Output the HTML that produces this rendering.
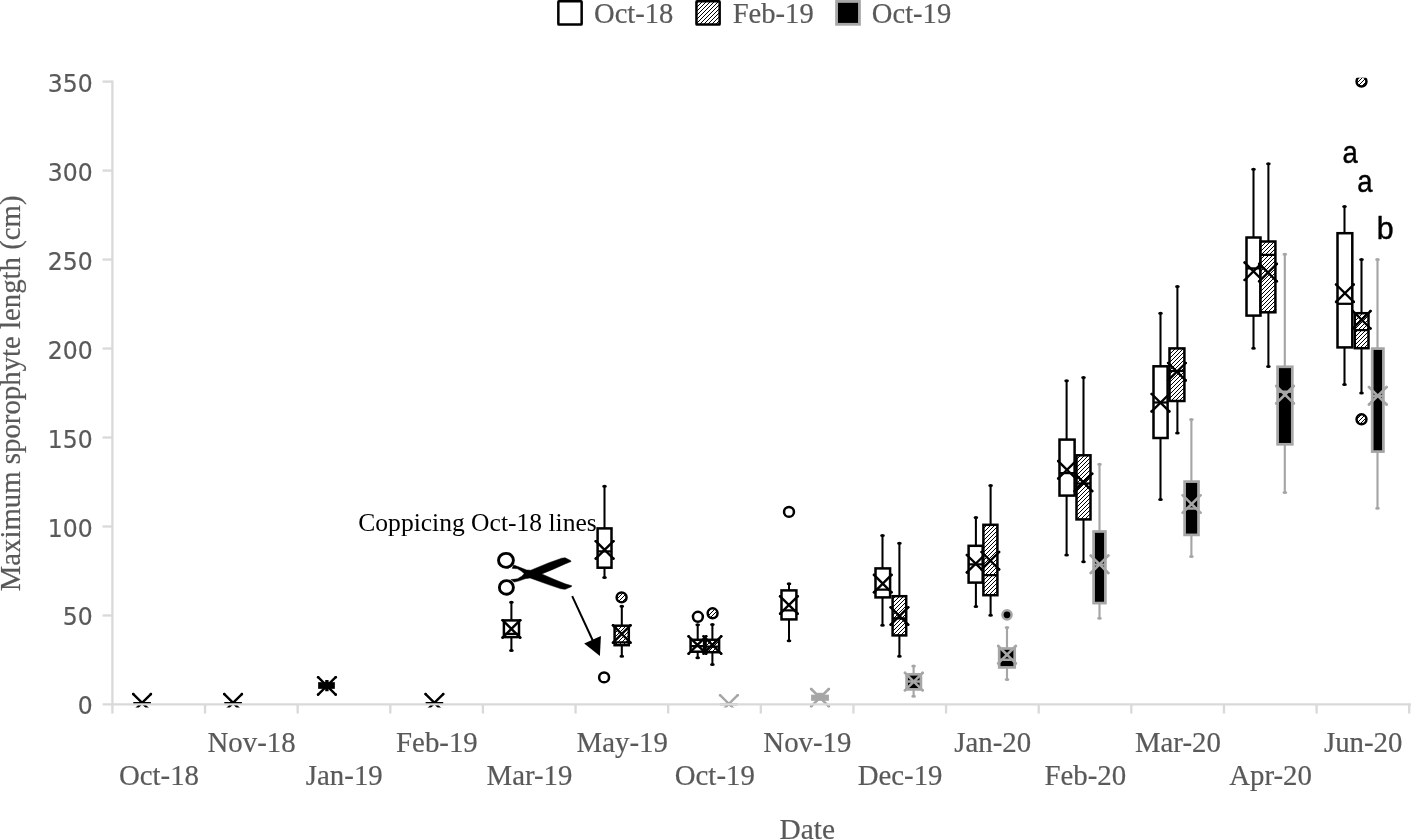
<!DOCTYPE html>
<html lang="en"><head><meta charset="utf-8"><title>Maximum sporophyte length</title>
<style>
html,body{margin:0;padding:0;background:#fff;}
body{width:1411px;height:839px;overflow:hidden;}
svg{display:block;}
</style></head><body>
<svg width="1411" height="839" viewBox="0 0 1411 839">
<defs>
<pattern id="hatch" width="4" height="4" patternUnits="userSpaceOnUse">
<path d="M-1 1L1 -1M-1 5L5 -1M3 5L5 3" stroke="#000" stroke-width="1.0" fill="none"/>
</pattern>
<clipPath id="plot"><rect x="100" y="77.7" width="1311" height="629.9"/></clipPath>
</defs>
<rect width="1411" height="839" fill="#fff"/>
<g clip-path="url(#plot)">
<path d="M326.9 680V691.3" stroke="#000" stroke-width="3.4"/>
<rect x="319.2" y="683.2" width="14.6" height="4.6" fill="#000" stroke="#000" stroke-width="2.1"/>
<path d="M318.1 677.2L335.7 694.6M318.1 694.6L335.7 677.2" stroke="#000" stroke-width="2.4" stroke-linecap="round" fill="none"/><circle cx="318.1" cy="677.2" r="1.3" fill="#000"/><circle cx="318.1" cy="694.6" r="1.3" fill="#000"/><circle cx="335.7" cy="677.2" r="1.3" fill="#000"/><circle cx="335.7" cy="694.6" r="1.3" fill="#000"/>
<path d="M133.3 703.1H150.9" stroke="#000" stroke-width="2.2"/>
<path d="M133.3 694.1L150.9 711.5M133.3 711.5L150.9 694.1" stroke="#000" stroke-width="2.4" stroke-linecap="round" fill="none"/><circle cx="133.3" cy="694.1" r="1.3" fill="#000"/><circle cx="133.3" cy="711.5" r="1.3" fill="#000"/><circle cx="150.9" cy="694.1" r="1.3" fill="#000"/><circle cx="150.9" cy="711.5" r="1.3" fill="#000"/>
<path d="M224.3 703.1H241.9" stroke="#000" stroke-width="2.2"/>
<path d="M224.3 694.1L241.9 711.5M224.3 711.5L241.9 694.1" stroke="#000" stroke-width="2.4" stroke-linecap="round" fill="none"/><circle cx="224.3" cy="694.1" r="1.3" fill="#000"/><circle cx="224.3" cy="711.5" r="1.3" fill="#000"/><circle cx="241.9" cy="694.1" r="1.3" fill="#000"/><circle cx="241.9" cy="711.5" r="1.3" fill="#000"/>
<path d="M425.6 703.1H443.2" stroke="#000" stroke-width="2.2"/>
<path d="M425.6 694.1L443.2 711.5M425.6 711.5L443.2 694.1" stroke="#000" stroke-width="2.4" stroke-linecap="round" fill="none"/><circle cx="425.6" cy="694.1" r="1.3" fill="#000"/><circle cx="425.6" cy="711.5" r="1.3" fill="#000"/><circle cx="443.2" cy="694.1" r="1.3" fill="#000"/><circle cx="443.2" cy="711.5" r="1.3" fill="#000"/>
<path d="M720.1 704.3H737.7" stroke="#A6A6A6" stroke-width="2.2"/>
<path d="M720.1 695.2L737.7 712.6M720.1 712.6L737.7 695.2" stroke="#A6A6A6" stroke-width="2.4" stroke-linecap="round" fill="none"/><circle cx="720.1" cy="695.2" r="1.3" fill="#A6A6A6"/><circle cx="720.1" cy="712.6" r="1.3" fill="#A6A6A6"/><circle cx="737.7" cy="695.2" r="1.3" fill="#A6A6A6"/><circle cx="737.7" cy="712.6" r="1.3" fill="#A6A6A6"/>
<rect x="811.1" y="694.7" width="17.8" height="6.1" fill="#A6A6A6"/>
<rect x="817.2" y="692.8" width="5.6" height="3" fill="#A6A6A6"/>
<path d="M811.2 689.0L828.8 706.4M811.2 706.4L828.8 689.0" stroke="#A6A6A6" stroke-width="2.5" stroke-linecap="round" fill="none"/><circle cx="811.2" cy="689.0" r="1.3" fill="#A6A6A6"/><circle cx="811.2" cy="706.4" r="1.3" fill="#A6A6A6"/><circle cx="828.8" cy="689.0" r="1.3" fill="#A6A6A6"/><circle cx="828.8" cy="706.4" r="1.3" fill="#A6A6A6"/>
<path d="M511.4 602.3V620.4M511.4 637.1V650.6" stroke="#000" stroke-width="2.05" fill="none"/>
<ellipse cx="511.4" cy="602.3" rx="2.35" ry="1.5" fill="#000"/>
<ellipse cx="511.4" cy="650.6" rx="2.35" ry="1.5" fill="#000"/>
<rect x="503.9" y="620.4" width="15.1" height="16.7" fill="#fff" stroke="#000" stroke-width="2.5"/>
<path d="M503.9 633.8H519.0" stroke="#000" stroke-width="2.25" fill="none"/>
<path d="M502.6 620.2L520.2 637.6M502.6 637.6L520.2 620.2" stroke="#000" stroke-width="2.4" stroke-linecap="round" fill="none"/><circle cx="502.6" cy="620.2" r="1.3" fill="#000"/><circle cx="502.6" cy="637.6" r="1.3" fill="#000"/><circle cx="520.2" cy="620.2" r="1.3" fill="#000"/><circle cx="520.2" cy="637.6" r="1.3" fill="#000"/>
<path d="M604.5 486.3V528.4M604.5 567.7V577.6" stroke="#000" stroke-width="2.05" fill="none"/>
<ellipse cx="604.5" cy="486.3" rx="2.35" ry="1.5" fill="#000"/>
<ellipse cx="604.5" cy="577.6" rx="2.35" ry="1.5" fill="#000"/>
<rect x="597.6" y="528.4" width="13.9" height="39.3" fill="#fff" stroke="#000" stroke-width="2.5"/>
<path d="M597.6 551.4H611.5" stroke="#000" stroke-width="2.25" fill="none"/>
<path d="M595.8 541.2L613.4 558.6M595.8 558.6L613.4 541.2" stroke="#000" stroke-width="2.4" stroke-linecap="round" fill="none"/><circle cx="595.8" cy="541.2" r="1.3" fill="#000"/><circle cx="595.8" cy="558.6" r="1.3" fill="#000"/><circle cx="613.4" cy="541.2" r="1.3" fill="#000"/><circle cx="613.4" cy="558.6" r="1.3" fill="#000"/>
<path d="M621.8 606.2V625.7M621.8 645.2V656.2" stroke="#000" stroke-width="2.05" fill="none"/>
<ellipse cx="621.8" cy="606.2" rx="2.35" ry="1.5" fill="#000"/>
<ellipse cx="621.8" cy="656.2" rx="2.35" ry="1.5" fill="#000"/>
<rect x="614.6" y="625.7" width="14.2" height="19.5" fill="#fff"/>
<rect x="614.6" y="625.7" width="14.2" height="19.5" fill="url(#hatch)" stroke="#000" stroke-width="2.5"/>
<path d="M614.6 642.3H628.9" stroke="#000" stroke-width="2.25" fill="none"/>
<path d="M613.0 625.3L630.5 642.7M613.0 642.7L630.5 625.3" stroke="#000" stroke-width="2.4" stroke-linecap="round" fill="none"/><circle cx="613.0" cy="625.3" r="1.3" fill="#000"/><circle cx="613.0" cy="642.7" r="1.3" fill="#000"/><circle cx="630.5" cy="625.3" r="1.3" fill="#000"/><circle cx="630.5" cy="642.7" r="1.3" fill="#000"/>
<path d="M697.7 624.8V639.8M697.7 651.7V657.8" stroke="#000" stroke-width="2.05" fill="none"/>
<ellipse cx="697.7" cy="624.8" rx="2.35" ry="1.5" fill="#000"/>
<ellipse cx="697.7" cy="657.8" rx="2.35" ry="1.5" fill="#000"/>
<rect x="690.6" y="639.8" width="13.5" height="11.9" fill="#fff" stroke="#000" stroke-width="2.5"/>
<path d="M690.6 646.0H704.1" stroke="#000" stroke-width="2.25" fill="none"/>
<path d="M688.6 636.3L706.2 653.7M688.6 653.7L706.2 636.3" stroke="#000" stroke-width="2.4" stroke-linecap="round" fill="none"/><circle cx="688.6" cy="636.3" r="1.3" fill="#000"/><circle cx="688.6" cy="653.7" r="1.3" fill="#000"/><circle cx="706.2" cy="636.3" r="1.3" fill="#000"/><circle cx="706.2" cy="653.7" r="1.3" fill="#000"/>
<path d="M712.4 624.6V639.8M712.4 652.2V664.6" stroke="#000" stroke-width="2.05" fill="none"/>
<ellipse cx="712.4" cy="624.6" rx="2.35" ry="1.5" fill="#000"/>
<ellipse cx="712.4" cy="664.6" rx="2.35" ry="1.5" fill="#000"/>
<rect x="705.6" y="639.8" width="13.5" height="12.4" fill="#fff"/>
<rect x="705.6" y="639.8" width="13.5" height="12.4" fill="url(#hatch)" stroke="#000" stroke-width="2.5"/>
<path d="M705.6 646.5H719.1" stroke="#000" stroke-width="2.25" fill="none"/>
<path d="M703.6 636.3L721.2 653.7M703.6 653.7L721.2 636.3" stroke="#000" stroke-width="2.4" stroke-linecap="round" fill="none"/><circle cx="703.6" cy="636.3" r="1.3" fill="#000"/><circle cx="703.6" cy="653.7" r="1.3" fill="#000"/><circle cx="721.2" cy="636.3" r="1.3" fill="#000"/><circle cx="721.2" cy="653.7" r="1.3" fill="#000"/>
<path d="M789.0 583.7V590.4M789.0 619.4V640.8" stroke="#000" stroke-width="2.05" fill="none"/>
<ellipse cx="789.0" cy="583.7" rx="2.35" ry="1.5" fill="#000"/>
<ellipse cx="789.0" cy="640.8" rx="2.35" ry="1.5" fill="#000"/>
<rect x="781.5" y="590.4" width="14.9" height="29.0" fill="#fff" stroke="#000" stroke-width="2.5"/>
<path d="M781.5 610.3H796.4" stroke="#000" stroke-width="2.25" fill="none"/>
<path d="M780.1 596.3L797.7 613.7M780.1 613.7L797.7 596.3" stroke="#000" stroke-width="2.4" stroke-linecap="round" fill="none"/><circle cx="780.1" cy="596.3" r="1.3" fill="#000"/><circle cx="780.1" cy="613.7" r="1.3" fill="#000"/><circle cx="797.7" cy="596.3" r="1.3" fill="#000"/><circle cx="797.7" cy="613.7" r="1.3" fill="#000"/>
<path d="M882.5 535.5V568.4M882.5 597.4V625.2" stroke="#000" stroke-width="2.05" fill="none"/>
<ellipse cx="882.5" cy="535.5" rx="2.35" ry="1.5" fill="#000"/>
<ellipse cx="882.5" cy="625.2" rx="2.35" ry="1.5" fill="#000"/>
<rect x="875.5" y="568.4" width="14.6" height="29.0" fill="#fff" stroke="#000" stroke-width="2.5"/>
<path d="M875.5 589.7H890.0" stroke="#000" stroke-width="2.25" fill="none"/>
<path d="M874.0 574.9L891.5 592.3M874.0 592.3L891.5 574.9" stroke="#000" stroke-width="2.4" stroke-linecap="round" fill="none"/><circle cx="874.0" cy="574.9" r="1.3" fill="#000"/><circle cx="874.0" cy="592.3" r="1.3" fill="#000"/><circle cx="891.5" cy="574.9" r="1.3" fill="#000"/><circle cx="891.5" cy="592.3" r="1.3" fill="#000"/>
<path d="M899.4 543.3V596.2M899.4 635.4V656.3" stroke="#000" stroke-width="2.05" fill="none"/>
<ellipse cx="899.4" cy="543.3" rx="2.35" ry="1.5" fill="#000"/>
<ellipse cx="899.4" cy="656.3" rx="2.35" ry="1.5" fill="#000"/>
<rect x="892.6" y="596.2" width="13.6" height="39.2" fill="#fff"/>
<rect x="892.6" y="596.2" width="13.6" height="39.2" fill="url(#hatch)" stroke="#000" stroke-width="2.5"/>
<path d="M892.6 618.3H906.2" stroke="#000" stroke-width="2.25" fill="none"/>
<path d="M890.7 607.3L908.2 624.7M890.7 624.7L908.2 607.3" stroke="#000" stroke-width="2.4" stroke-linecap="round" fill="none"/><circle cx="890.7" cy="607.3" r="1.3" fill="#000"/><circle cx="890.7" cy="624.7" r="1.3" fill="#000"/><circle cx="908.2" cy="607.3" r="1.3" fill="#000"/><circle cx="908.2" cy="624.7" r="1.3" fill="#000"/>
<path d="M913.6 665.9V674.3M913.6 689.4V696.2" stroke="#A6A6A6" stroke-width="2.15" fill="none"/>
<ellipse cx="913.6" cy="665.9" rx="2.35" ry="1.5" fill="#A6A6A6"/>
<ellipse cx="913.6" cy="696.2" rx="2.35" ry="1.5" fill="#A6A6A6"/>
<rect x="906.6" y="674.3" width="14.3" height="15.1" fill="#000" stroke="#A6A6A6" stroke-width="2.7"/>
<path d="M906.6 681.5H920.9" stroke="#A6A6A6" stroke-width="2.43" fill="none"/>
<path d="M905.0 672.9L922.6 690.3M905.0 690.3L922.6 672.9" stroke="#A6A6A6" stroke-width="2.6" stroke-linecap="round" fill="none"/><circle cx="905.0" cy="672.9" r="1.3" fill="#A6A6A6"/><circle cx="905.0" cy="690.3" r="1.3" fill="#A6A6A6"/><circle cx="922.6" cy="672.9" r="1.3" fill="#A6A6A6"/><circle cx="922.6" cy="690.3" r="1.3" fill="#A6A6A6"/>
<path d="M975.9 517.4V545.8M975.9 582.6V606.4" stroke="#000" stroke-width="2.05" fill="none"/>
<ellipse cx="975.9" cy="517.4" rx="2.35" ry="1.5" fill="#000"/>
<ellipse cx="975.9" cy="606.4" rx="2.35" ry="1.5" fill="#000"/>
<rect x="968.6" y="545.8" width="14.1" height="36.8" fill="#fff" stroke="#000" stroke-width="2.5"/>
<path d="M968.6 564.3H982.8" stroke="#000" stroke-width="2.25" fill="none"/>
<path d="M966.9 555.0L984.5 572.4M966.9 572.4L984.5 555.0" stroke="#000" stroke-width="2.4" stroke-linecap="round" fill="none"/><circle cx="966.9" cy="555.0" r="1.3" fill="#000"/><circle cx="966.9" cy="572.4" r="1.3" fill="#000"/><circle cx="984.5" cy="555.0" r="1.3" fill="#000"/><circle cx="984.5" cy="572.4" r="1.3" fill="#000"/>
<path d="M990.6 485.6V524.8M990.6 595.2V615.2" stroke="#000" stroke-width="2.05" fill="none"/>
<ellipse cx="990.6" cy="485.6" rx="2.35" ry="1.5" fill="#000"/>
<ellipse cx="990.6" cy="615.2" rx="2.35" ry="1.5" fill="#000"/>
<rect x="983.4" y="524.8" width="14.0" height="70.4" fill="#fff"/>
<rect x="983.4" y="524.8" width="14.0" height="70.4" fill="url(#hatch)" stroke="#000" stroke-width="2.5"/>
<path d="M983.4 575.0H997.4" stroke="#000" stroke-width="2.25" fill="none"/>
<path d="M981.6 552.0L999.1 569.4M981.6 569.4L999.1 552.0" stroke="#000" stroke-width="2.4" stroke-linecap="round" fill="none"/><circle cx="981.6" cy="552.0" r="1.3" fill="#000"/><circle cx="981.6" cy="569.4" r="1.3" fill="#000"/><circle cx="999.1" cy="552.0" r="1.3" fill="#000"/><circle cx="999.1" cy="569.4" r="1.3" fill="#000"/>
<path d="M1007.0 627.4V648.5M1007.0 667.4V679.6" stroke="#A6A6A6" stroke-width="2.15" fill="none"/>
<ellipse cx="1007.0" cy="627.4" rx="2.35" ry="1.5" fill="#A6A6A6"/>
<ellipse cx="1007.0" cy="679.6" rx="2.35" ry="1.5" fill="#A6A6A6"/>
<rect x="999.2" y="648.5" width="15.5" height="18.9" fill="#000" stroke="#A6A6A6" stroke-width="2.7"/>
<path d="M999.2 659.7H1014.8" stroke="#A6A6A6" stroke-width="2.43" fill="none"/>
<path d="M998.2 646.0L1015.8 663.4M998.2 663.4L1015.8 646.0" stroke="#A6A6A6" stroke-width="2.6" stroke-linecap="round" fill="none"/><circle cx="998.2" cy="646.0" r="1.3" fill="#A6A6A6"/><circle cx="998.2" cy="663.4" r="1.3" fill="#A6A6A6"/><circle cx="1015.8" cy="646.0" r="1.3" fill="#A6A6A6"/><circle cx="1015.8" cy="663.4" r="1.3" fill="#A6A6A6"/>
<path d="M1066.6 380.7V439.6M1066.6 495.6V554.9" stroke="#000" stroke-width="2.05" fill="none"/>
<ellipse cx="1066.6" cy="380.7" rx="2.35" ry="1.5" fill="#000"/>
<ellipse cx="1066.6" cy="554.9" rx="2.35" ry="1.5" fill="#000"/>
<rect x="1059.5" y="439.6" width="15.1" height="56.0" fill="#fff" stroke="#000" stroke-width="2.5"/>
<path d="M1059.5 473.1H1074.5" stroke="#000" stroke-width="2.25" fill="none"/>
<path d="M1058.2 461.1L1075.8 478.5M1058.2 478.5L1075.8 461.1" stroke="#000" stroke-width="2.4" stroke-linecap="round" fill="none"/><circle cx="1058.2" cy="461.1" r="1.3" fill="#000"/><circle cx="1058.2" cy="478.5" r="1.3" fill="#000"/><circle cx="1075.8" cy="461.1" r="1.3" fill="#000"/><circle cx="1075.8" cy="478.5" r="1.3" fill="#000"/>
<path d="M1083.5 377.4V455.3M1083.5 519.4V561.7" stroke="#000" stroke-width="2.05" fill="none"/>
<ellipse cx="1083.5" cy="377.4" rx="2.35" ry="1.5" fill="#000"/>
<ellipse cx="1083.5" cy="561.7" rx="2.35" ry="1.5" fill="#000"/>
<rect x="1076.5" y="455.3" width="14.0" height="64.1" fill="#fff"/>
<rect x="1076.5" y="455.3" width="14.0" height="64.1" fill="url(#hatch)" stroke="#000" stroke-width="2.5"/>
<path d="M1076.5 483.5H1090.5" stroke="#000" stroke-width="2.25" fill="none"/>
<path d="M1074.7 473.7L1092.2 491.1M1074.7 491.1L1092.2 473.7" stroke="#000" stroke-width="2.4" stroke-linecap="round" fill="none"/><circle cx="1074.7" cy="473.7" r="1.3" fill="#000"/><circle cx="1074.7" cy="491.1" r="1.3" fill="#000"/><circle cx="1092.2" cy="473.7" r="1.3" fill="#000"/><circle cx="1092.2" cy="491.1" r="1.3" fill="#000"/>
<path d="M1099.5 464.3V531.5M1099.5 603.1V618.3" stroke="#A6A6A6" stroke-width="2.15" fill="none"/>
<ellipse cx="1099.5" cy="464.3" rx="2.35" ry="1.5" fill="#A6A6A6"/>
<ellipse cx="1099.5" cy="618.3" rx="2.35" ry="1.5" fill="#A6A6A6"/>
<rect x="1093.6" y="531.5" width="11.8" height="71.6" fill="#000" stroke="#A6A6A6" stroke-width="2.7"/>
<path d="M1093.6 564.6H1105.5" stroke="#A6A6A6" stroke-width="2.43" fill="none"/>
<path d="M1090.8 555.6L1108.3 573.0M1090.8 573.0L1108.3 555.6" stroke="#A6A6A6" stroke-width="2.6" stroke-linecap="round" fill="none"/><circle cx="1090.8" cy="555.6" r="1.3" fill="#A6A6A6"/><circle cx="1090.8" cy="573.0" r="1.3" fill="#A6A6A6"/><circle cx="1108.3" cy="555.6" r="1.3" fill="#A6A6A6"/><circle cx="1108.3" cy="573.0" r="1.3" fill="#A6A6A6"/>
<path d="M1160.5 313.3V366.3M1160.5 438.0V499.5" stroke="#000" stroke-width="2.05" fill="none"/>
<ellipse cx="1160.5" cy="313.3" rx="2.35" ry="1.5" fill="#000"/>
<ellipse cx="1160.5" cy="499.5" rx="2.35" ry="1.5" fill="#000"/>
<rect x="1153.5" y="366.3" width="14.1" height="71.7" fill="#fff" stroke="#000" stroke-width="2.5"/>
<path d="M1153.5 402.5H1167.5" stroke="#000" stroke-width="2.25" fill="none"/>
<path d="M1151.7 394.0L1169.3 411.4M1151.7 411.4L1169.3 394.0" stroke="#000" stroke-width="2.4" stroke-linecap="round" fill="none"/><circle cx="1151.7" cy="394.0" r="1.3" fill="#000"/><circle cx="1151.7" cy="411.4" r="1.3" fill="#000"/><circle cx="1169.3" cy="394.0" r="1.3" fill="#000"/><circle cx="1169.3" cy="411.4" r="1.3" fill="#000"/>
<path d="M1177.4 286.5V348.4M1177.4 401.0V433.0" stroke="#000" stroke-width="2.05" fill="none"/>
<ellipse cx="1177.4" cy="286.5" rx="2.35" ry="1.5" fill="#000"/>
<ellipse cx="1177.4" cy="433.0" rx="2.35" ry="1.5" fill="#000"/>
<rect x="1169.5" y="348.4" width="14.9" height="52.6" fill="#fff"/>
<rect x="1169.5" y="348.4" width="14.9" height="52.6" fill="url(#hatch)" stroke="#000" stroke-width="2.5"/>
<path d="M1169.5 371.0H1184.3" stroke="#000" stroke-width="2.25" fill="none"/>
<path d="M1168.1 363.0L1185.7 380.4M1168.1 380.4L1185.7 363.0" stroke="#000" stroke-width="2.4" stroke-linecap="round" fill="none"/><circle cx="1168.1" cy="363.0" r="1.3" fill="#000"/><circle cx="1168.1" cy="380.4" r="1.3" fill="#000"/><circle cx="1185.7" cy="363.0" r="1.3" fill="#000"/><circle cx="1185.7" cy="380.4" r="1.3" fill="#000"/>
<path d="M1191.4 419.6V481.6M1191.4 534.9V556.5" stroke="#A6A6A6" stroke-width="2.15" fill="none"/>
<ellipse cx="1191.4" cy="419.6" rx="2.35" ry="1.5" fill="#A6A6A6"/>
<ellipse cx="1191.4" cy="556.5" rx="2.35" ry="1.5" fill="#A6A6A6"/>
<rect x="1184.6" y="481.6" width="13.9" height="53.3" fill="#000" stroke="#A6A6A6" stroke-width="2.7"/>
<path d="M1184.6 508.5H1198.6" stroke="#A6A6A6" stroke-width="2.43" fill="none"/>
<path d="M1182.8 495.3L1200.4 512.7M1182.8 512.7L1200.4 495.3" stroke="#A6A6A6" stroke-width="2.6" stroke-linecap="round" fill="none"/><circle cx="1182.8" cy="495.3" r="1.3" fill="#A6A6A6"/><circle cx="1182.8" cy="512.7" r="1.3" fill="#A6A6A6"/><circle cx="1200.4" cy="495.3" r="1.3" fill="#A6A6A6"/><circle cx="1200.4" cy="512.7" r="1.3" fill="#A6A6A6"/>
<path d="M1253.5 169.3V237.5M1253.5 315.6V348.2" stroke="#000" stroke-width="2.05" fill="none"/>
<ellipse cx="1253.5" cy="169.3" rx="2.35" ry="1.5" fill="#000"/>
<ellipse cx="1253.5" cy="348.2" rx="2.35" ry="1.5" fill="#000"/>
<rect x="1246.5" y="237.5" width="14.0" height="78.1" fill="#fff" stroke="#000" stroke-width="2.5"/>
<path d="M1246.5 268.4H1260.5" stroke="#000" stroke-width="2.25" fill="none"/>
<path d="M1244.7 262.6L1262.2 280.0M1244.7 280.0L1262.2 262.6" stroke="#000" stroke-width="2.4" stroke-linecap="round" fill="none"/><circle cx="1244.7" cy="262.6" r="1.3" fill="#000"/><circle cx="1244.7" cy="280.0" r="1.3" fill="#000"/><circle cx="1262.2" cy="262.6" r="1.3" fill="#000"/><circle cx="1262.2" cy="280.0" r="1.3" fill="#000"/>
<path d="M1268.4 163.7V241.5M1268.4 312.3V366.6" stroke="#000" stroke-width="2.05" fill="none"/>
<ellipse cx="1268.4" cy="163.7" rx="2.35" ry="1.5" fill="#000"/>
<ellipse cx="1268.4" cy="366.6" rx="2.35" ry="1.5" fill="#000"/>
<rect x="1260.5" y="241.5" width="14.9" height="70.8" fill="#fff"/>
<rect x="1260.5" y="241.5" width="14.9" height="70.8" fill="url(#hatch)" stroke="#000" stroke-width="2.5"/>
<path d="M1260.5 254.9H1275.5" stroke="#000" stroke-width="2.25" fill="none"/>
<path d="M1259.2 263.9L1276.8 281.3M1259.2 281.3L1276.8 263.9" stroke="#000" stroke-width="2.4" stroke-linecap="round" fill="none"/><circle cx="1259.2" cy="263.9" r="1.3" fill="#000"/><circle cx="1259.2" cy="281.3" r="1.3" fill="#000"/><circle cx="1276.8" cy="263.9" r="1.3" fill="#000"/><circle cx="1276.8" cy="281.3" r="1.3" fill="#000"/>
<path d="M1284.8 254.2V366.8M1284.8 444.3V492.4" stroke="#A6A6A6" stroke-width="2.15" fill="none"/>
<ellipse cx="1284.8" cy="254.2" rx="2.35" ry="1.5" fill="#A6A6A6"/>
<ellipse cx="1284.8" cy="492.4" rx="2.35" ry="1.5" fill="#A6A6A6"/>
<rect x="1277.6" y="366.8" width="14.7" height="77.5" fill="#000" stroke="#A6A6A6" stroke-width="2.7"/>
<path d="M1277.6 391.7H1292.4" stroke="#A6A6A6" stroke-width="2.43" fill="none"/>
<path d="M1276.2 386.0L1293.8 403.4M1276.2 403.4L1293.8 386.0" stroke="#A6A6A6" stroke-width="2.6" stroke-linecap="round" fill="none"/><circle cx="1276.2" cy="386.0" r="1.3" fill="#A6A6A6"/><circle cx="1276.2" cy="403.4" r="1.3" fill="#A6A6A6"/><circle cx="1293.8" cy="386.0" r="1.3" fill="#A6A6A6"/><circle cx="1293.8" cy="403.4" r="1.3" fill="#A6A6A6"/>
<path d="M1344.5 206.5V233.2M1344.5 347.4V384.4" stroke="#000" stroke-width="2.05" fill="none"/>
<ellipse cx="1344.5" cy="206.5" rx="2.35" ry="1.5" fill="#000"/>
<ellipse cx="1344.5" cy="384.4" rx="2.35" ry="1.5" fill="#000"/>
<rect x="1337.5" y="233.2" width="14.8" height="114.2" fill="#fff" stroke="#000" stroke-width="2.5"/>
<path d="M1337.5 303.8H1352.3" stroke="#000" stroke-width="2.25" fill="none"/>
<path d="M1336.1 284.5L1353.7 301.9M1336.1 301.9L1353.7 284.5" stroke="#000" stroke-width="2.4" stroke-linecap="round" fill="none"/><circle cx="1336.1" cy="284.5" r="1.3" fill="#000"/><circle cx="1336.1" cy="301.9" r="1.3" fill="#000"/><circle cx="1353.7" cy="284.5" r="1.3" fill="#000"/><circle cx="1353.7" cy="301.9" r="1.3" fill="#000"/>
<path d="M1361.5 259.5V313.2M1361.5 348.2V393.0" stroke="#000" stroke-width="2.05" fill="none"/>
<ellipse cx="1361.5" cy="259.5" rx="2.35" ry="1.5" fill="#000"/>
<ellipse cx="1361.5" cy="393.0" rx="2.35" ry="1.5" fill="#000"/>
<rect x="1354.8" y="313.2" width="13.7" height="35.0" fill="#fff"/>
<rect x="1354.8" y="313.2" width="13.7" height="35.0" fill="url(#hatch)" stroke="#000" stroke-width="2.5"/>
<path d="M1354.8 330.1H1368.5" stroke="#000" stroke-width="2.25" fill="none"/>
<path d="M1352.9 311.1L1370.5 328.5M1352.9 328.5L1370.5 311.1" stroke="#000" stroke-width="2.4" stroke-linecap="round" fill="none"/><circle cx="1352.9" cy="311.1" r="1.3" fill="#000"/><circle cx="1352.9" cy="328.5" r="1.3" fill="#000"/><circle cx="1370.5" cy="311.1" r="1.3" fill="#000"/><circle cx="1370.5" cy="328.5" r="1.3" fill="#000"/>
<path d="M1377.5 259.5V348.6M1377.5 451.6V508.3" stroke="#A6A6A6" stroke-width="2.15" fill="none"/>
<ellipse cx="1377.5" cy="259.5" rx="2.35" ry="1.5" fill="#A6A6A6"/>
<ellipse cx="1377.5" cy="508.3" rx="2.35" ry="1.5" fill="#A6A6A6"/>
<rect x="1372.2" y="348.6" width="11.2" height="103.0" fill="#000" stroke="#A6A6A6" stroke-width="2.7"/>
<path d="M1372.2 396.0H1383.5" stroke="#A6A6A6" stroke-width="2.43" fill="none"/>
<path d="M1369.0 387.1L1386.6 404.5M1369.0 404.5L1386.6 387.1" stroke="#A6A6A6" stroke-width="2.6" stroke-linecap="round" fill="none"/><circle cx="1369.0" cy="387.1" r="1.3" fill="#A6A6A6"/><circle cx="1369.0" cy="404.5" r="1.3" fill="#A6A6A6"/><circle cx="1386.6" cy="387.1" r="1.3" fill="#A6A6A6"/><circle cx="1386.6" cy="404.5" r="1.3" fill="#A6A6A6"/>
<circle cx="604.1" cy="677.4" r="4.95" fill="#fff" stroke="#000" stroke-width="2.5"/>
<circle cx="621.6" cy="597.4" r="4.95" fill="#fff"/><circle cx="621.6" cy="597.4" r="4.95" fill="url(#hatch)" stroke="#000" stroke-width="2.5"/>
<circle cx="697.9" cy="616.8" r="4.95" fill="#fff" stroke="#000" stroke-width="2.5"/>
<circle cx="712.6" cy="613.3" r="4.95" fill="#fff"/><circle cx="712.6" cy="613.3" r="4.95" fill="url(#hatch)" stroke="#000" stroke-width="2.5"/>
<circle cx="789.0" cy="511.9" r="4.95" fill="#fff" stroke="#000" stroke-width="2.5"/>
<circle cx="1007.0" cy="614.8" r="4.6" fill="#000" stroke="#A6A6A6" stroke-width="2.5"/>
<circle cx="1361.5" cy="81.5" r="4.95" fill="#fff"/><circle cx="1361.5" cy="81.5" r="4.95" fill="url(#hatch)" stroke="#000" stroke-width="2.5"/>
<circle cx="1361.5" cy="419.3" r="4.95" fill="#fff"/><circle cx="1361.5" cy="419.3" r="4.95" fill="url(#hatch)" stroke="#000" stroke-width="2.5"/>
</g>
<g stroke="#D9D9D9" stroke-width="2.3" fill="none">
<path d="M112.4 80.5V705.6"/>
<path d="M102.60000000000001 704.45H1411"/>
<path d="M102.60000000000001 615.47H112.4"/>
<path d="M102.60000000000001 526.49H112.4"/>
<path d="M102.60000000000001 437.51H112.4"/>
<path d="M102.60000000000001 348.54H112.4"/>
<path d="M102.60000000000001 259.56H112.4"/>
<path d="M102.60000000000001 170.58H112.4"/>
<path d="M102.60000000000001 81.60H112.4"/>
<path d="M112.40 704.45V713.5500000000001"/>
<path d="M205.03 704.45V713.5500000000001"/>
<path d="M297.66 704.45V713.5500000000001"/>
<path d="M390.29 704.45V713.5500000000001"/>
<path d="M482.92 704.45V713.5500000000001"/>
<path d="M575.55 704.45V713.5500000000001"/>
<path d="M668.18 704.45V713.5500000000001"/>
<path d="M760.81 704.45V713.5500000000001"/>
<path d="M853.44 704.45V713.5500000000001"/>
<path d="M946.07 704.45V713.5500000000001"/>
<path d="M1038.70 704.45V713.5500000000001"/>
<path d="M1131.33 704.45V713.5500000000001"/>
<path d="M1223.96 704.45V713.5500000000001"/>
<path d="M1316.59 704.45V713.5500000000001"/>
<path d="M1409.22 704.45V713.5500000000001"/>
</g>
<g font-family="'DejaVu Sans', 'Liberation Sans', sans-serif" font-size="24.5" fill="#595959" stroke="#595959" stroke-width="0.2" text-anchor="end">
<text transform="translate(92.7 713.8) scale(0.96 1)">0</text>
<text transform="translate(92.7 625.0) scale(0.96 1)">50</text>
<text transform="translate(92.7 536.5) scale(0.96 1)">100</text>
<text transform="translate(92.7 447.5) scale(0.96 1)">150</text>
<text transform="translate(92.7 358.5) scale(0.96 1)">200</text>
<text transform="translate(92.7 269.6) scale(0.96 1)">250</text>
<text transform="translate(92.7 180.9) scale(0.96 1)">300</text>
<text transform="translate(92.7 91.8) scale(0.96 1)">350</text>
</g>
<g font-family="'Liberation Serif', serif" font-size="28.85" fill="#595959" stroke="#595959" stroke-width="0.2" text-anchor="middle">
<text x="159.0" y="785.4">Oct-18</text>
<text x="251.6" y="751.6">Nov-18</text>
<text x="344.3" y="785.4">Jan-19</text>
<text x="436.9" y="751.6">Feb-19</text>
<text x="529.5" y="785.4">Mar-19</text>
<text x="622.2" y="751.6">May-19</text>
<text x="714.8" y="785.4">Oct-19</text>
<text x="807.4" y="751.6">Nov-19</text>
<text x="900.1" y="785.4">Dec-19</text>
<text x="992.7" y="751.6">Jan-20</text>
<text x="1085.3" y="785.4">Feb-20</text>
<text x="1177.9" y="751.6">Mar-20</text>
<text x="1270.6" y="785.4">Apr-20</text>
<text x="1363.2" y="751.6">Jun-20</text>
<text x="807.2" y="839.2" font-size="29.4">Date</text>
<text font-size="28.8" transform="translate(19.9 393.4) rotate(-90)">Maximum sporophyte length (cm)</text>
</g>
<g font-family="'Liberation Serif', serif" font-size="28.6" fill="#595959" stroke="#595959" stroke-width="0.2">
<rect x="558.35" y="1.3" width="23.3" height="23.2" rx="0.6" fill="#fff" stroke="#000" stroke-width="2.5"/>
<text x="594" y="22.6">Oct-18</text>
<rect x="696.45" y="1.3" width="23.2" height="23.2" rx="0.6" fill="url(#hatch)" stroke="#000" stroke-width="2.5"/>
<text x="732.7" y="22.6">Feb-19</text>
<rect x="836.6" y="1.45" width="22.85" height="22.85" fill="#000" stroke="#A6A6A6" stroke-width="2.8"/>
<text x="871.8" y="22.6">Oct-19</text>
</g>
<text x="358.3" y="530.5" font-family="'Liberation Serif', serif" font-size="25.55" fill="#000">Coppicing Oct-18 lines</text>
<g font-family="'Liberation Sans', sans-serif" font-size="32" fill="#000" stroke="#000" stroke-width="0.45">
<text transform="translate(1342.4 162.9) scale(0.86 1)">a</text><text transform="translate(1357.2 192.2) scale(0.86 1)">a</text><text transform="translate(1376.8 239.2) scale(0.95 1)">b</text>
</g>
<g id="scissors">
<path d="M530.87 570.19L548.38 562.94L561.73 558.18L565.06 557.76L570.48 560.43L571.07 561.52L565.06 563.94L553.39 569.19L541.71 573.94L553.39 579.03L565.06 583.79L571.73 585.70L571.32 586.71L565.06 589.37L560.89 588.79L548.38 584.62L530.03 577.95L525.03 578.78L519.19 580.87L514.19 582.12L510.85 579.62L517.52 578.78L521.69 576.28L524.20 573.78L521.69 571.28L517.52 568.77L512.10 568.36L513.77 565.02L519.19 567.11L526.70 570.03Z" fill="#000" stroke="#000" stroke-width="0.5" stroke-linejoin="round"/>
<ellipse cx="505.97" cy="560.35" rx="7.45" ry="7.0" fill="#fff" stroke="#000" stroke-width="2.9"/>
<ellipse cx="506.4" cy="587.46" rx="7.0" ry="6.8" fill="#fff" stroke="#000" stroke-width="2.9"/>
</g>
<path d="M572.2 596.2L593 641" stroke="#000" stroke-width="2" fill="none"/>
<path d="M584.2 643.6L600.9 635.9L599.9 655.9Z" fill="#000"/>
</svg>
</body></html>
